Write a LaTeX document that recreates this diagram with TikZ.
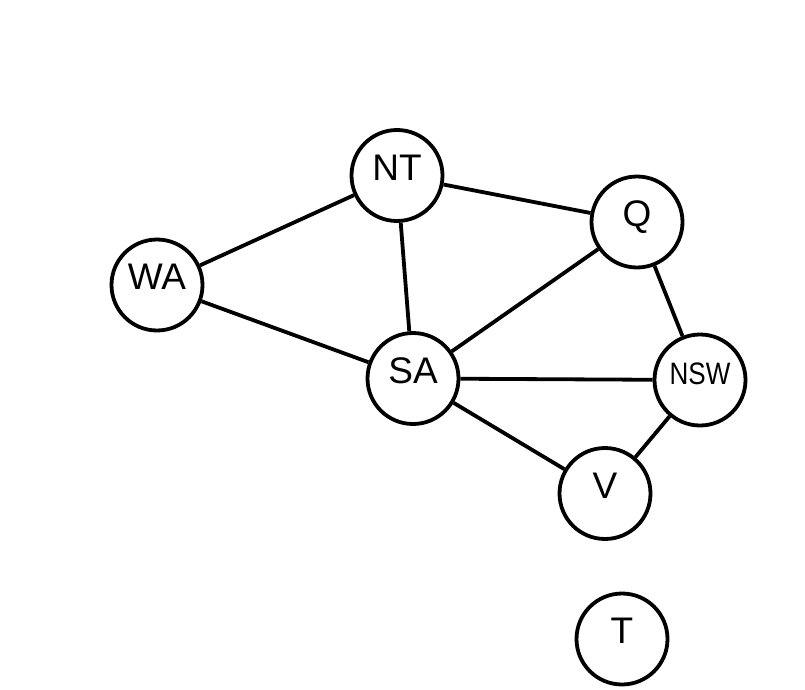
\documentclass[tikz,border=0pt]{standalone}
\usepackage{fontspec}
\setmainfont{Liberation Sans}
\begin{document}
\begin{tikzpicture}[x=1pt,y=-1pt,
  region/.style={circle,draw=black,line width=3.8pt,fill=white,minimum size=91pt,inner sep=0pt,text depth=16pt,font=\fontsize{37}{40}\selectfont},
  link/.style={line width=3.8pt,black}]
\useasboundingbox (0,0) rectangle (805,690);
\node[region] (NT) at (397,175.5) {NT};
\node[region] (Q) at (637,222) {Q};
\node[region] (WA) at (157,285) {WA};
\node[region] (SA) at (413,378.5) {SA};
\node[region,text depth=12pt] (NSW) at (700,380) {\scalebox{0.84}[1]{\fontsize{31}{36}\selectfont NSW}};
\node[region] (V) at (605,493.5) {V};
\node[region] (T) at (622,639) {T};
\draw[link] (WA) -- (NT);
\draw[link] (WA) -- (SA);
\draw[link] (NT) -- (SA);
\draw[link] (NT) -- (Q);
\draw[link] (Q) -- (SA);
\draw[link] (Q) -- (NSW);
\draw[link] (SA) -- (NSW);
\draw[link] (SA) -- (V);
\draw[link] (NSW) -- (V);
\end{tikzpicture}
\end{document}
